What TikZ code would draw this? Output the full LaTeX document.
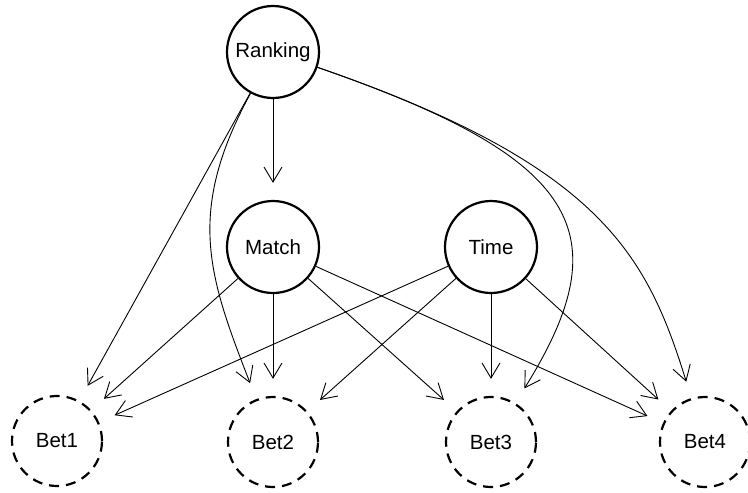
\documentclass[tikz,border=0pt]{standalone}
\usepackage{fontspec}
\setmainfont{Liberation Sans}
\usetikzlibrary{arrows.meta}
\begin{document}
\begin{tikzpicture}[x=1pt,y=-1pt,
  lbl/.style={font=\fontsize{20.5}{24}\selectfont},
  obs/.style={circle,draw,line width=2.2pt,minimum size=92pt,inner sep=0pt,lbl},
  bet/.style={circle,draw,line width=2.2pt,dash pattern=on 10pt off 7pt,minimum size=90pt,inner sep=0pt,lbl},
  edge/.style={line width=0.9pt,-{Straight Barb[length=15pt,width=18pt]},shorten >=17pt}]
\useasboundingbox (0,0) rectangle (748,493);
\node[obs] (R) at (273,52) {Ranking};
\node[obs] (M) at (273,247) {Match};
\node[obs] (T) at (491,247) {Time};
\node[bet] (B1) at (57,441) {Bet1};
\node[bet] (B2) at (273,442) {Bet2};
\node[bet] (B3) at (491,442) {Bet3};
\node[bet] (B4) at (705,442) {Bet4};
\draw[edge] (R) -- (M);
\draw[edge] (R) -- (B1);
\draw[edge] (R) .. controls (186,212) and (208,275) .. (B2);
\draw[edge] (R) .. controls (580,158) and (622,232) .. (B3);
\draw[edge] (R) .. controls (601,165) and (647,255) .. (B4);
\foreach \b in {B1,B2,B3,B4} {
  \draw[edge] (M) -- (\b);
  \draw[edge] (T) -- (\b);
}
\end{tikzpicture}
\end{document}
